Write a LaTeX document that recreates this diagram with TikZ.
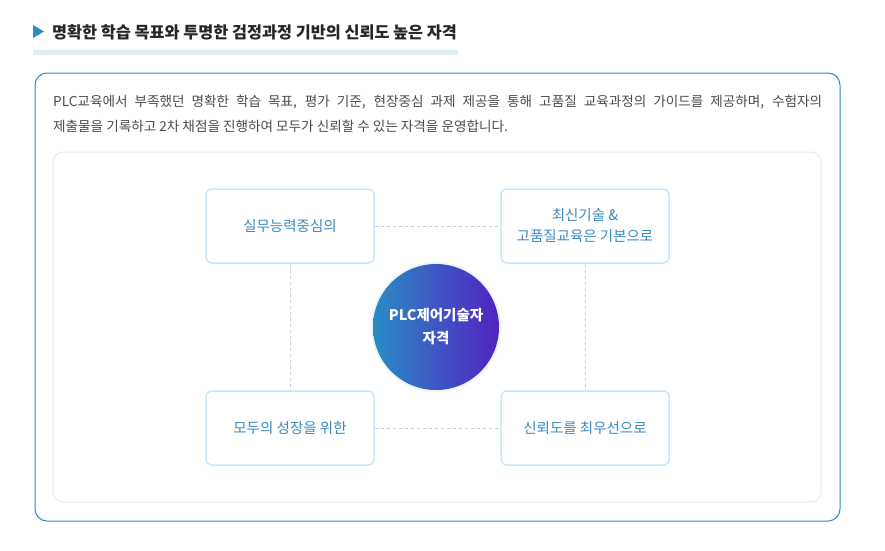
\documentclass[tikz,border=0pt]{standalone}
\usepackage{fontspec}
\setmainfont{Noto Sans CJK KR}
\usetikzlibrary{shadings}
\definecolor{mainblue}{HTML}{2A8CC4}
\definecolor{boxtxt}{HTML}{3A8AC0}
\definecolor{boxline}{HTML}{C6E7FA}
\definecolor{purp}{HTML}{5222C2}
\tikzset{
  card/.style={draw=boxline, line width=1.5pt, rounded corners=6pt, fill=white, minimum width=168pt, minimum height=74pt, align=center, text=boxtxt, font=\fontsize{14.5}{21}\selectfont},
  link/.style={draw=black!20, dashed, line width=0.9pt}
}
\begin{document}
\begin{tikzpicture}[x=1pt,y=-1pt]
\useasboundingbox (0,0) rectangle (885,550);
\fill[white] (0,0) rectangle (885,550);
\fill[mainblue] (33,25) -- (44,31.5) -- (33,38) -- cycle;
\node[anchor=west, font=\fontsize{16.3}{18}\selectfont\bfseries, text=black!85, inner sep=0] (title) at (52,32) {명확한 학습 목표와 투명한 검정과정 기반의 신뢰도 높은 자격};
\fill[mainblue!15] (33,50) rectangle (458,55);
\draw[mainblue, line width=1pt, rounded corners=12pt] (35,73) rectangle (840,521);
\node[anchor=north west, font=\fontsize{13.6}{25}\selectfont, text=black!70, inner sep=0, text width=769pt, align=justify] (p) at (53,95) {PLC교육에서 부족했던 명확한 학습 목표, 평가 기준, 현장중심 과제 제공을 통해 고품질 교육과정의 가이드를 제공하며, 수험자의\linebreak 제출물을 기록하고 2차 채점을 진행하여 모두가 신뢰할 수 있는 자격을 운영합니다.};
\draw[black!8, line width=1pt, rounded corners=10pt] (53,152) rectangle (821,502);
\node[card] (tl) at (290,226) {실무능력중심의};
\node[card] (tr) at (585,226) {최신기술 \&\\고품질교육은 기본으로};
\node[card] (bl) at (290,428) {모두의 성장을 위한};
\node[card] (br) at (585,428) {신뢰도를 최우선으로};
\draw[link] (tl) -- (tr);
\draw[link] (bl) -- (br);
\draw[link] (tl) -- (bl);
\draw[link] (tr) -- (br);
\fill[mainblue!10] (436,327) circle (65);
\shade[left color=mainblue, right color=purp] (436,327) circle (63);
\node[align=center, text=white, font=\fontsize{14.5}{23}\selectfont\bfseries] (c) at (436,327) {PLC제어기술자\\자격};
\end{tikzpicture}
\end{document}
